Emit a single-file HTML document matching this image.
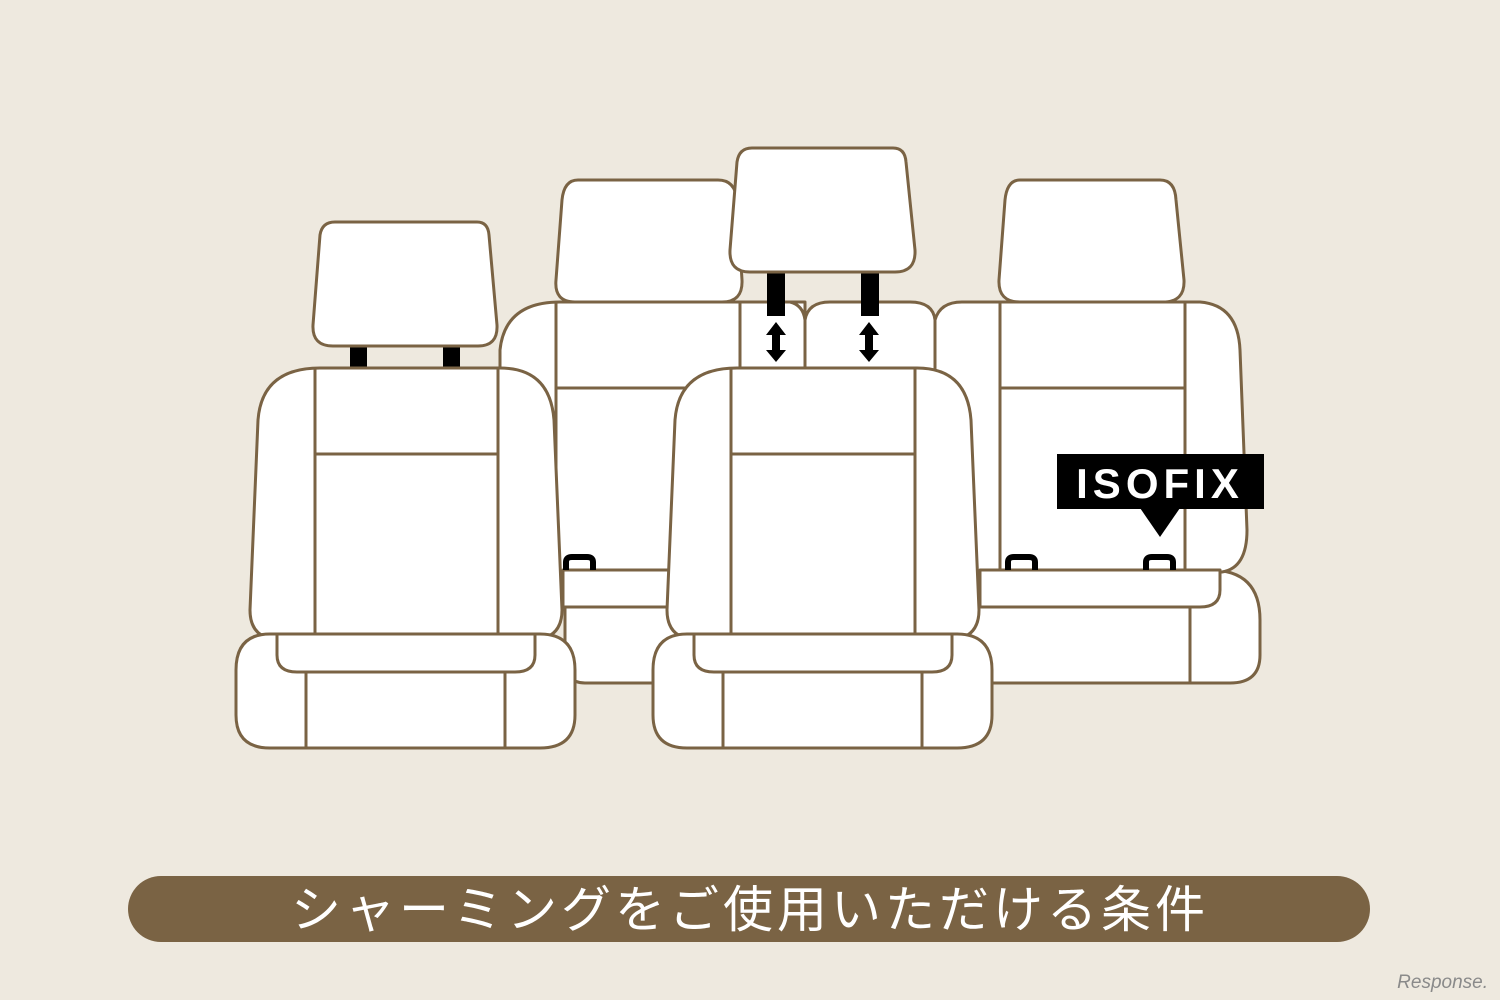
<!DOCTYPE html>
<html><head><meta charset="utf-8"><style>
html,body{margin:0;padding:0;background:#eee9df;}
svg{display:block}
</style></head><body>
<svg width="1500" height="1000" viewBox="0 0 1500 1000" xmlns="http://www.w3.org/2000/svg">
<rect width="1500" height="1000" fill="#eee9df"/>
<g fill="#fff" stroke="#7a6344" stroke-width="3" stroke-linejoin="round">
<!-- rear headrests -->
<path d="M578,180 L718,180 Q735,180 737,200 L742,280 Q743,302 722,302 L575,302 Q554,302 556,280 L562,200 Q564,180 578,180 Z"/>
<path d="M1020,180 L1160,180 Q1175,180 1176,200 L1184,280 Q1185,302 1163,302 L1020,302 Q998,302 999,280 L1005,200 Q1007,180 1020,180 Z"/>
<!-- rear cushion -->
<path d="M565,570 L1210,570 Q1260,570 1260,620 L1260,655 Q1260,683 1230,683 L585,683 Q565,683 565,660 Z"/>
<line x1="1190" y1="607" x2="1190" y2="683"/>
<!-- rear back left -->
<path d="M500,600 L500,350 Q505,302 560,302 L805,302 L805,600 Z"/>
<line x1="556" y1="302" x2="556" y2="570"/>
<line x1="740" y1="302" x2="740" y2="570"/>
<line x1="556" y1="388" x2="740" y2="388"/>
<!-- middle -->
<path d="M740,302 L790,302 Q803,305 805,320 L805,380 L740,380 Z"/>
<path d="M805,320 Q808,302 830,302 L910,302 Q933,302 935,320 L935,380 L805,380 Z"/>
<!-- rear back right -->
<path d="M935,320 Q940,302 962,302 L1200,302 Q1238,305 1240,350 L1247,530 Q1247,568 1222,572 L935,572 Z"/>
<line x1="1000" y1="302" x2="1000" y2="570"/>
<line x1="1185" y1="302" x2="1185" y2="570"/>
<line x1="1000" y1="388" x2="1185" y2="388"/>
<path d="M563,570 L700,570 L700,607 L563,607 Z"/>
<path d="M980,570 L1220,570 L1220,590 Q1220,607 1200,607 L980,607 Z"/>
</g>
<g fill="none" stroke="#000" stroke-width="6">
<path d="M566,570 L566,562 Q566,557 572,557 L587,557 Q593,557 593,562 L593,570"/>
<path d="M1008,570 L1008,562 Q1008,557 1014,557 L1029,557 Q1035,557 1035,562 L1035,570"/>
<path d="M1146,570 L1146,562 Q1146,557 1152,557 L1167,557 Q1173,557 1173,562 L1173,570"/>
</g>
<rect x="1057" y="454" width="207" height="55" fill="#000"/>
<polygon points="1140,508 1180,508 1160,537" fill="#000"/>
<text x="1160" y="498" text-anchor="middle" fill="#fff" font-family="Liberation Sans, sans-serif" font-weight="bold" font-size="42" letter-spacing="5">ISOFIX</text>
<g fill="#000">
<rect x="350" y="345" width="17" height="24"/><rect x="443" y="345" width="17" height="24"/>
<rect x="767" y="270" width="18" height="46"/><rect x="861" y="270" width="18" height="46"/>
<polygon points="776,322 786,335 780,335 780,350 786,350 776,362 766,350 772,350 772,335 766,335"/>
<polygon points="869,322 879,335 873,335 873,350 879,350 869,362 859,350 865,350 865,335 859,335"/>
</g>
<g fill="#fff" stroke="#7a6344" stroke-width="3" stroke-linejoin="round">
<path d="M335,222 L477,222 Q488,222 489,235 L497,325 Q498,346 478,346 L333,346 Q312,346 313,325 L320,235 Q322,222 335,222 Z"/>
<path d="M250,610 L258,420 Q262,368 320,368 L500,368 Q550,368 554,420 L562,610 Q562,640 530,640 L282,640 Q250,640 250,610 Z"/>
<line x1="315" y1="368" x2="315" y2="640"/>
<line x1="498" y1="368" x2="498" y2="640"/>
<line x1="315" y1="454" x2="498" y2="454"/>
<path d="M270,634 L540,634 Q575,634 575,670 L575,715 Q575,748 540,748 L270,748 Q236,748 236,715 L236,670 Q236,634 270,634 Z"/>
<path d="M277,634 L535,634 L535,655 Q535,672 515,672 L297,672 Q277,672 277,655 Z"/>
<line x1="306" y1="672" x2="306" y2="748"/>
<line x1="505" y1="672" x2="505" y2="748"/>
<path d="M752,148 L893,148 Q905,148 906,162 L915,250 Q916,272 895,272 L750,272 Q729,272 730,250 L737,162 Q739,148 752,148 Z"/>
<path d="M667,610 L675,420 Q679,368 737,368 L917,368 Q967,368 971,420 L979,610 Q979,640 947,640 L699,640 Q667,640 667,610 Z"/>
<line x1="731" y1="368" x2="731" y2="640"/>
<line x1="915" y1="368" x2="915" y2="640"/>
<line x1="731" y1="454" x2="915" y2="454"/>
<path d="M687,634 L957,634 Q992,634 992,670 L992,715 Q992,748 957,748 L687,748 Q653,748 653,715 L653,670 Q653,634 687,634 Z"/>
<path d="M694,634 L952,634 L952,655 Q952,672 932,672 L714,672 Q694,672 694,655 Z"/>
<line x1="723" y1="672" x2="723" y2="748"/>
<line x1="922" y1="672" x2="922" y2="748"/>
</g>
<rect x="128" y="876" width="1242" height="66" rx="33" fill="#7a6344"/>
<text x="750" y="927" text-anchor="middle" fill="#fff" font-family="Liberation Sans, Noto Sans CJK JP, sans-serif" font-size="50" letter-spacing="4">シャーミングをご使用いただける条件</text>
<text x="1488" y="988" text-anchor="end" fill="#8a8a8a" font-family="Liberation Sans, sans-serif" font-size="19" font-style="italic">Response.</text>
</svg>
</body></html>
